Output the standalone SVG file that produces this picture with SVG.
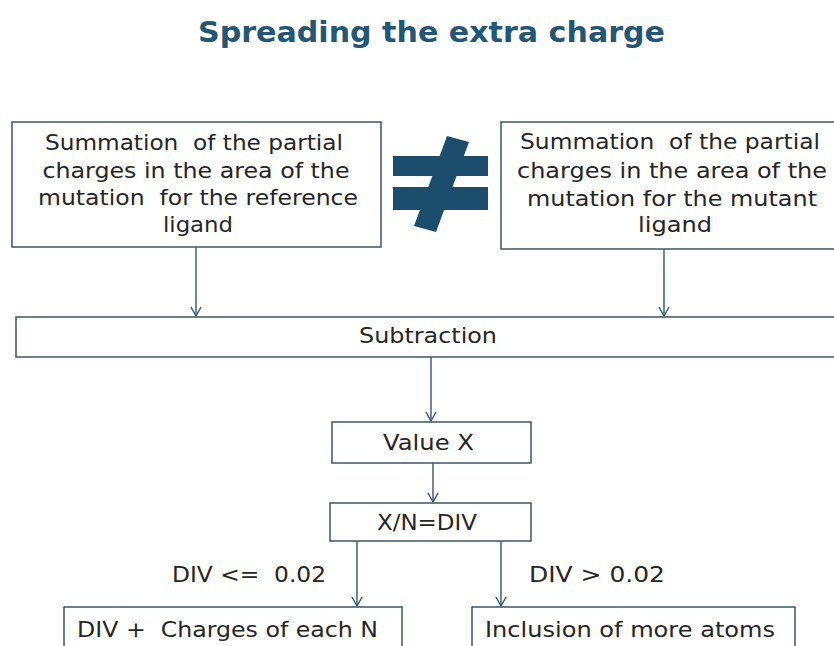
<svg xmlns="http://www.w3.org/2000/svg" width="834" height="646" viewBox="0 0 834 646">
<style>
.title{font-family:"DejaVu Sans","Liberation Sans",sans-serif;font-weight:bold;font-size:29px;fill:#245675}
.box{fill:#ffffff;stroke:#3d5666;stroke-width:1.5}
.t{font-family:"DejaVu Sans","Liberation Sans",sans-serif;font-size:21px;fill:#262626}
.conn{stroke:#3f6173;stroke-width:1.5;fill:none}
.ne{fill:#1c4d6d}
</style>
<defs>
<marker id="arr" viewBox="0 0 12 12" refX="11" refY="6" markerWidth="12" markerHeight="12" markerUnits="userSpaceOnUse" orient="auto">
<path d="M2,1 L11,6 L2,11" fill="none" stroke="#3f6173" stroke-width="1.5"/>
</marker>
</defs>
<rect width="834" height="646" fill="#ffffff"/>
<text class="title" x="431.5" y="42" text-anchor="middle" textLength="467" lengthAdjust="spacingAndGlyphs">Spreading the extra charge</text>

<g id="box-reference">
<rect class="box" x="12" y="122" width="369" height="125"/>
<text class="t" text-anchor="middle" x="194" y="150" textLength="298" lengthAdjust="spacingAndGlyphs" xml:space="preserve">Summation  of the partial</text>
<text class="t" text-anchor="middle" x="196" y="177.5" textLength="307" lengthAdjust="spacingAndGlyphs">charges in the area of the</text>
<text class="t" text-anchor="middle" x="198" y="205" textLength="320" lengthAdjust="spacingAndGlyphs" xml:space="preserve">mutation  for the reference</text>
<text class="t" text-anchor="middle" x="198" y="232" textLength="70" lengthAdjust="spacingAndGlyphs">ligand</text>
</g>

<g id="not-equal">
<rect class="ne" x="393" y="156" width="95" height="20"/>
<rect class="ne" x="393" y="187" width="95" height="23"/>
<polygon class="ne" points="447,136 469,142 436,232 414,226"/>
</g>

<g id="box-mutant">
<rect class="box" x="501" y="122" width="342" height="127"/>
<text class="t" text-anchor="middle" x="670" y="149" textLength="300" lengthAdjust="spacingAndGlyphs" xml:space="preserve">Summation  of the partial</text>
<text class="t" text-anchor="middle" x="672" y="177.5" textLength="310" lengthAdjust="spacingAndGlyphs">charges in the area of the</text>
<text class="t" text-anchor="middle" x="672" y="205.5" textLength="290" lengthAdjust="spacingAndGlyphs">mutation for the mutant</text>
<text class="t" text-anchor="middle" x="675" y="232" textLength="74" lengthAdjust="spacingAndGlyphs">ligand</text>
</g>

<g id="subtraction">
<rect class="box" x="16" y="317" width="827" height="40"/>
<text class="t" text-anchor="middle" x="428" y="343" textLength="138" lengthAdjust="spacingAndGlyphs">Subtraction</text>
</g>

<g id="value-x">
<rect class="box" x="332" y="422" width="199" height="41"/>
<text class="t" text-anchor="middle" x="428.5" y="450" textLength="91" lengthAdjust="spacingAndGlyphs">Value X</text>
</g>

<g id="div">
<rect class="box" x="330" y="503" width="201" height="38"/>
<text class="t" text-anchor="middle" x="427" y="530" textLength="100" lengthAdjust="spacingAndGlyphs">X/N=DIV</text>
</g>

<g id="charges-each-n">
<rect class="box" x="64" y="607" width="338" height="60"/>
<text class="t" x="77" y="637" textLength="301" lengthAdjust="spacingAndGlyphs" xml:space="preserve">DIV +  Charges of each N</text>
</g>

<g id="more-atoms">
<rect class="box" x="472" y="607" width="323" height="60"/>
<text class="t" x="485" y="637" textLength="290" lengthAdjust="spacingAndGlyphs">Inclusion of more atoms</text>
</g>

<g id="connectors">
<line class="conn" x1="196" y1="247" x2="196" y2="316" marker-end="url(#arr)"/>
<line class="conn" x1="664" y1="249" x2="664" y2="316" marker-end="url(#arr)"/>
<line class="conn" x1="431" y1="357" x2="431" y2="421" marker-end="url(#arr)"/>
<line class="conn" x1="433" y1="463" x2="433" y2="502" marker-end="url(#arr)"/>
<line class="conn" x1="357" y1="541" x2="357" y2="606" marker-end="url(#arr)"/>
<line class="conn" x1="501" y1="541" x2="501" y2="606" marker-end="url(#arr)"/>
<text class="t" x="172" y="582" textLength="154" lengthAdjust="spacingAndGlyphs" xml:space="preserve">DIV &lt;=  0.02</text>
<text class="t" x="529" y="582" textLength="136" lengthAdjust="spacingAndGlyphs">DIV &gt; 0.02</text>
</g>
</svg>
